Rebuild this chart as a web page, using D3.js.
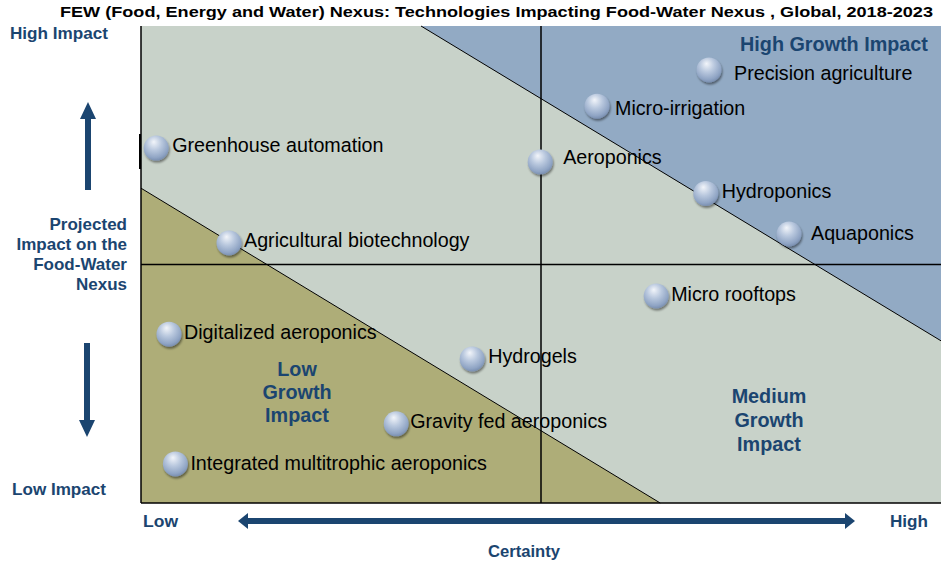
<!DOCTYPE html>
<html>
<head>
<meta charset="utf-8">
<script src="https://cdn.jsdelivr.net/npm/d3@7"></script>
<style>
  body { margin: 0; background: #fff; }
  text { font-family: Arial, "Liberation Sans", sans-serif; }
</style>
</head>
<body>
<div id="chart"></div>
<script>
// technologies, certainty (x, 0-100) and impact (y, 0-100)
const techNames = ['Precision agriculture', 'Micro-irrigation', 'Greenhouse automation', 'Aeroponics',
  'Hydroponics', 'Aquaponics', 'Agricultural biotechnology', 'Micro rooftops', 'Digitalized aeroponics',
  'Hydrogels', 'Gravity fed aeroponics', 'Integrated multitrophic aeroponics']
const certainty = [71, 57, 1.9, 49.9, 70.6, 81, 11, 64.4, 3.5, 41.4, 31.9, 4.3]
const impact = [90.8, 83.2, 74.4, 71.5, 64.9, 56.4, 54.5, 43.4, 35.4, 30.2, 16.6, 8.2]

// zone boundaries (data units)
const highZone = [[35, 100], [100, 100], [100, 34]]
const lowZone = [[0, 66], [64.9, 0], [0, 0]]
const midX = 50, midY = 50

const width = 943, height = 562
const plot = { left: 141, right: 941, top: 26, bottom: 503 }
const navy = '#1b4570'
// label gaps to the right of each bubble (px)
const labelGap = [25, 18, 16, 23, 16, 22, 15, 15, 15, 16, 14, 15]
const labelShift = [3, 2, -3, -5, -2, -1, -3, -2, -2, -3, -3, -1]

const svg = d3.select('#chart').append('svg')
  .attr('width', width).attr('height', height)

const x = d3.scaleLinear().domain([0, 100]).range([plot.left, plot.right])
const y = d3.scaleLinear().domain([0, 100]).range([plot.bottom, plot.top])

const defs = svg.append('defs')
const grad = defs.append('radialGradient').attr('id', 'ball')
  .attr('cx', '45%').attr('cy', '35%').attr('r', '65%').attr('fx', '40%').attr('fy', '25%')
grad.append('stop').attr('offset', '0%').attr('stop-color', '#f2f5fa')
grad.append('stop').attr('offset', '45%').attr('stop-color', '#b9c8de')
grad.append('stop').attr('offset', '85%').attr('stop-color', '#8fa4c4')
grad.append('stop').attr('offset', '100%').attr('stop-color', '#7a8fb0')
const shadow = defs.append('filter').attr('id', 'shadow')
  .attr('x', '-50%').attr('y', '-50%').attr('width', '200%').attr('height', '200%')
shadow.append('feDropShadow').attr('dx', 1).attr('dy', 2).attr('stdDeviation', 1.2)
  .attr('flood-color', '#000').attr('flood-opacity', 0.45)

// background zones
svg.append('rect').attr('x', x(0)).attr('y', y(100))
  .attr('width', x(100) - x(0)).attr('height', y(0) - y(100)).attr('fill', '#c8d2c9')
const line = d3.line().x(d => x(d[0])).y(d => y(d[1]))
svg.append('path').attr('d', line(highZone) + 'Z').attr('fill', '#92aac4')
svg.append('path').attr('d', line(lowZone) + 'Z').attr('fill', '#aead78')
svg.append('path').attr('d', line([highZone[0], highZone[2]])).attr('stroke', '#000').attr('stroke-width', 1)
svg.append('path').attr('d', line([lowZone[0], lowZone[1]])).attr('stroke', '#000').attr('stroke-width', 1)

// quadrant lines
svg.append('line').attr('x1', x(midX)).attr('x2', x(midX)).attr('y1', y(100)).attr('y2', y(0))
  .attr('stroke', '#000').attr('stroke-width', 1.5)
svg.append('line').attr('x1', x(0)).attr('x2', x(100)).attr('y1', y(midY)).attr('y2', y(midY))
  .attr('stroke', '#000').attr('stroke-width', 1.5)

// axis lines
svg.append('line').attr('x1', x(0)).attr('x2', x(0)).attr('y1', y(100)).attr('y2', y(0))
  .attr('stroke', '#000').attr('stroke-width', 1.5)
svg.append('line').attr('x1', x(0)).attr('x2', x(100)).attr('y1', y(0)).attr('y2', y(0))
  .attr('stroke', '#000').attr('stroke-width', 1.5)
svg.append('line').attr('x1', x(0) - 1).attr('x2', x(0) - 1).attr('y1', 134).attr('y2', 169)
  .attr('stroke', '#000').attr('stroke-width', 2)

// zone labels
function multiText(lines, cx, cy0, step, size) {
  const t = svg.append('text').attr('text-anchor', 'middle').attr('fill', navy)
    .attr('font-weight', 'bold').attr('font-size', size)
  lines.forEach((s, i) => t.append('tspan').attr('x', cx).attr('y', cy0 + i * step).text(s))
}
multiText(['High Growth Impact'], 834, 51, 0, 19.8)
multiText(['Low', 'Growth', 'Impact'], 297, 376, 23, 19.8)
multiText(['Medium', 'Growth', 'Impact'], 769, 403, 24, 19.8)

// bubbles
const pts = techNames.map((n, i) => ({ name: n, cx: certainty[i], cy: impact[i], i }))
const g = svg.selectAll('.tech').data(pts).join('g').attr('class', 'tech')
g.append('circle').attr('cx', d => x(d.cx)).attr('cy', d => y(d.cy)).attr('r', 12.5)
  .attr('fill', 'url(#ball)').attr('filter', 'url(#shadow)')
g.append('text').attr('x', d => x(d.cx) + labelGap[d.i]).attr('y', d => y(d.cy) + labelShift[d.i])
  .attr('dy', '0.35em').attr('font-size', 19.7).attr('fill', '#000').text(d => d.name)

// title
svg.append('text').attr('x', 933).attr('y', 17).attr('text-anchor', 'end')
  .attr('font-weight', 'bold').attr('font-size', 15.5)
  .style('font-family', '"Liberation Sans Narrow", "Arial Narrow", Arial, sans-serif')
  .attr('textLength', 873).attr('lengthAdjust', 'spacingAndGlyphs')
  .text('FEW (Food, Energy and Water) Nexus: Technologies Impacting Food-Water Nexus , Global, 2018-2023')

// axis captions
const narrow = '"Liberation Sans Narrow", "Arial Narrow", Arial, sans-serif'
function caption(s, xx, yy, anchor, len) {
  const t = svg.append('text').attr('x', xx).attr('y', yy).attr('text-anchor', anchor)
    .attr('font-weight', 'bold').attr('font-size', 16.5).attr('fill', navy)
    .style('font-family', narrow).text(s)
  if (len) t.attr('textLength', len).attr('lengthAdjust', 'spacingAndGlyphs')
}
caption('High Impact', 10, 39, 'start', 98)
caption('Low Impact', 12, 495, 'start', 94)
caption('Low', 143, 527, 'start', 35)
caption('High', 890, 527, 'start', 38)
caption('Certainty', 524, 557, 'middle', 72)

const yTitle = svg.append('text').attr('text-anchor', 'end').attr('fill', navy)
  .attr('font-weight', 'bold').attr('font-size', 17)
;['Projected', 'Impact on the', 'Food-Water', 'Nexus'].forEach((s, i) =>
  yTitle.append('tspan').attr('x', 127).attr('y', 230 + i * 20).text(s))

// arrows
function arrowPath(x1, y1, x2, y2, shaft, head, headLen) {
  const a = Math.atan2(y2 - y1, x2 - x1), L = Math.hypot(x2 - x1, y2 - y1)
  const pts0 = [[0, -shaft / 2], [L - headLen, -shaft / 2], [L - headLen, -head / 2], [L, 0],
    [L - headLen, head / 2], [L - headLen, shaft / 2], [0, shaft / 2]]
  return 'M' + pts0.map(p => [x1 + p[0] * Math.cos(a) - p[1] * Math.sin(a),
    y1 + p[0] * Math.sin(a) + p[1] * Math.cos(a)].join(',')).join('L') + 'Z'
}
svg.append('path').attr('d', arrowPath(88, 190, 88, 102, 6, 16, 17)).attr('fill', navy)
svg.append('path').attr('d', arrowPath(87, 343, 87, 437, 6, 16, 17)).attr('fill', navy)
svg.append('path').attr('d', arrowPath(546, 521, 238, 521, 6, 16, 10)).attr('fill', navy)
svg.append('path').attr('d', arrowPath(540, 521, 855, 521, 6, 16, 10)).attr('fill', navy)
</script>
</body>
</html>
